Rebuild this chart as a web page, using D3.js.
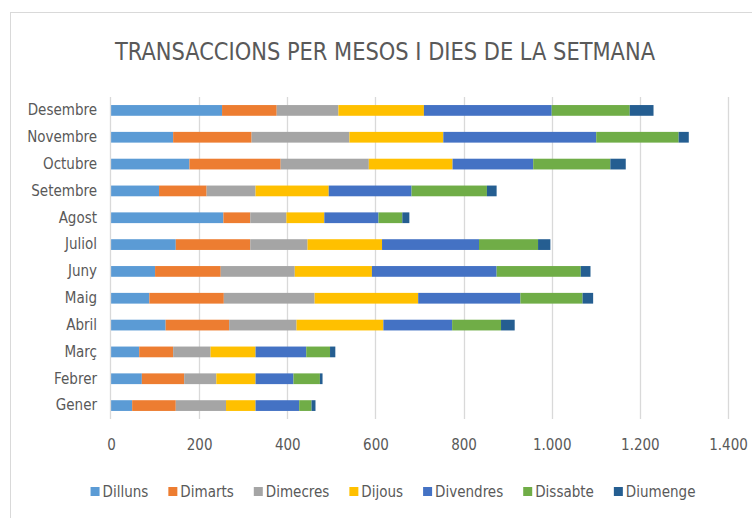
<!DOCTYPE html>
<html>
<head>
<meta charset="utf-8">
<script src="https://cdn.jsdelivr.net/npm/d3@7"></script>
<style>
  html, body { margin: 0; padding: 0; background: #fff; }
  svg text { font-family: "Liberation Sans Narrow", "DejaVu Sans Condensed", "Liberation Sans", sans-serif; fill: #595959; }
</style>
</head>
<body>
<svg id="chart" width="752" height="518"></svg>
<script>
// Months, listed from bottom to top of the chart
const months = ["Gener", "Febrer", "Març", "Abril", "Maig", "Juny", "Juliol",
                "Agost", "Setembre", "Octubre", "Novembre", "Desembre"];
const days = ["Dilluns", "Dimarts", "Dimecres", "Dijous", "Divendres", "Dissabte", "Diumenge"];
const dayColors = ["#5B9BD5", "#ED7D31", "#A5A5A5", "#FFC000", "#4472C4", "#70AD47", "#255E91"];

// Transactions per weekday, one array per day, in month order (Gener..Desembre)
const dilluns   = [48, 70, 64, 124, 87, 100, 147, 255, 109, 178, 141, 252];
const dimarts   = [99, 96, 77, 144, 169, 149, 169, 61, 108, 207, 178, 124];
const dimecres  = [114, 73, 85, 153, 206, 168, 130, 82, 111, 200, 222, 140];
const dijous    = [67, 89, 102, 197, 235, 175, 169, 86, 166, 190, 213, 194];
const divendres = [99, 86, 115, 156, 232, 283, 220, 123, 188, 183, 347, 290];
const dissabte  = [28, 60, 54, 111, 141, 191, 134, 54, 171, 175, 187, 177];
const diumenge  = [9, 6, 12, 31, 24, 22, 28, 16, 22, 35, 23, 54];

const tickValues = [0, 200, 400, 600, 800, 1000, 1200, 1400];
const tickLabels = ["0", "200", "400", "600", "800", "1.000", "1.200", "1.400"];
const title = "TRANSACCIONS PER MESOS I DIES DE LA SETMANA";

const series = [dilluns, dimarts, dimecres, dijous, divendres, dissabte, diumenge];
const rows = months.map((m, i) => {
  const r = { month: m };
  days.forEach((d, j) => { r[d] = series[j][i]; });
  return r;
});
const stacked = d3.stack().keys(days)(rows);

const svg = d3.select("#chart");
const margin = { left: 111, top: 97 };
const plotBottom = 419;

// chart frame
svg.append("rect").attr("x", 10.5).attr("y", 12.5).attr("width", 760).attr("height", 540)
  .attr("fill", "none").attr("stroke", "#d9d9d9").attr("stroke-width", 1);

const x = d3.scaleLinear().domain([0, 1400]).range([margin.left, 728]);
const y = d3.scaleBand().domain(months.slice().reverse())
  .range([margin.top, plotBottom]).paddingInner(0.6).paddingOuter(0.3);

// vertical gridlines
svg.append("g").selectAll("line").data(tickValues.slice(1)).join("line")
  .attr("x1", d => Math.round(x(d)) + 0.5).attr("x2", d => Math.round(x(d)) + 0.5)
  .attr("y1", margin.top).attr("y2", plotBottom)
  .attr("stroke", "#d9d9d9").attr("stroke-width", 1.3);

// stacked bars
svg.append("g").selectAll("g").data(stacked).join("g")
  .attr("fill", (d, i) => dayColors[i])
  .selectAll("rect").data(d => d).join("rect")
  .attr("x", d => x(d[0]))
  .attr("width", d => x(d[1]) - x(d[0]))
  .attr("y", d => y(d.data.month))
  .attr("height", y.bandwidth());

// category axis line
svg.append("line").attr("x1", margin.left - 0.5).attr("x2", margin.left - 0.5)
  .attr("y1", margin.top).attr("y2", plotBottom).attr("stroke", "#d9d9d9").attr("stroke-width", 1.3);

// month labels
const yAxis = d3.axisLeft(y).tickSize(0).tickPadding(14);
const gy = svg.append("g").attr("transform", `translate(${margin.left},0)`).call(yAxis);
gy.select(".domain").remove();
gy.selectAll("text").attr("font-size", 15).style("fill", "#595959")
  .style("font-family", '"Liberation Sans Narrow", "DejaVu Sans Condensed", sans-serif');

// value labels
const xAxis = d3.axisBottom(x).tickValues(tickValues).tickSize(0).tickPadding(16)
  .tickFormat((d, i) => tickLabels[i]);
const gx = svg.append("g").attr("transform", "translate(0,423)").call(xAxis);
gx.select(".domain").remove();
gx.selectAll("text").attr("font-size", 15).style("fill", "#595959")
  .style("font-family", '"Liberation Sans Narrow", "DejaVu Sans Condensed", sans-serif');

// title
svg.append("text").attr("x", 385).attr("y", 60).attr("text-anchor", "middle")
  .attr("font-size", 25).attr("textLength", 540).attr("lengthAdjust", "spacingAndGlyphs")
  .text(title);

// legend
const legend = svg.append("g");
const items = legend.selectAll("g").data(days).join("g");
items.append("rect").attr("width", 9).attr("height", 9).attr("y", -10)
  .attr("fill", (d, i) => dayColors[i]);
items.append("text").attr("x", 12).attr("y", 0).attr("font-size", 15).text(d => d);
const gap = 20;
const widths = items.nodes().map(n => 12 + d3.select(n).select("text").node().getComputedTextLength());
const total = d3.sum(widths) + gap * (widths.length - 1);
let cx = 393 - total / 2;
items.each(function (d, i) {
  d3.select(this).attr("transform", `translate(${cx},497)`);
  cx += widths[i] + gap;
});
</script>
</body>
</html>
